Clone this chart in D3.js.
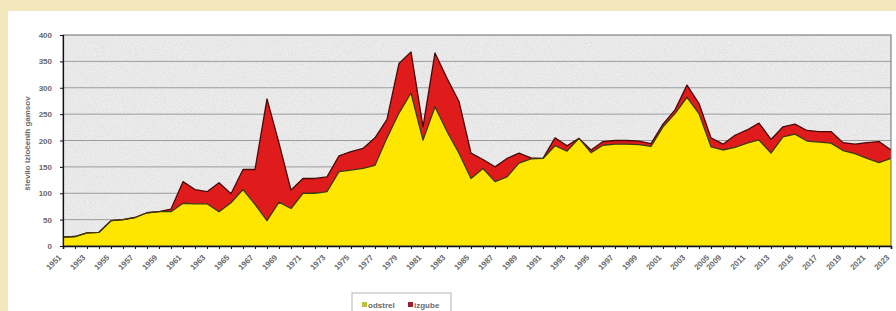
<!DOCTYPE html>
<html>
<head>
<meta charset="utf-8">
<script src="https://cdn.jsdelivr.net/npm/d3@7"></script>
<style>
  html, body { margin: 0; padding: 0; background: #f3e7bd; }
  svg { display: block; }
  .tick-label { font-family: "Liberation Sans", Arial, sans-serif; font-size: 8px; font-weight: bold; fill: #6a6a6a; }
</style>
</head>
<body>
<div id="vis"></div>
<script>
const WIDTH = 896;
const HEIGHT = 311;

// years shown in the chart (2006-2008 are not in the picture)
const YEARS = [
  1951, 1952, 1953, 1954, 1955, 1956, 1957, 1958, 1959, 1960,
  1961, 1962, 1963, 1964, 1965, 1966, 1967, 1968, 1969, 1970,
  1971, 1972, 1973, 1974, 1975, 1976, 1977, 1978, 1979, 1980,
  1981, 1982, 1983, 1984, 1985, 1986, 1987, 1988, 1989, 1990,
  1991, 1992, 1993, 1994, 1995, 1996, 1997, 1998, 1999, 2000,
  2001, 2002, 2003, 2004, 2005, 2009, 2010, 2011, 2012, 2013,
  2014, 2015, 2016, 2017, 2018, 2019, 2020, 2021, 2022, 2023
];

const ODSTREL = [
  17, 18, 25, 26, 48, 50, 54, 63, 65, 65,
  81, 80, 80, 65, 82, 107, 79, 48, 83, 71,
  100, 100, 103, 141, 144, 147, 153, 205, 252, 290,
  201, 264, 217, 176, 128, 147, 122, 131, 157, 165,
  166, 190, 180, 204, 177, 191, 193, 193, 192, 189,
  226, 251, 282, 251, 188, 182, 187, 195, 201, 176,
  207, 212, 199, 197, 195, 181, 175, 166, 158, 166
];

const IZGUBE = [
  0, 0, 0, 0, 0, 0, 0, 0, 0, 5,
  41, 27, 23, 55, 17, 38, 66, 231, 112, 35,
  28, 28, 28, 30, 35, 38, 52, 35, 94, 78,
  25, 102, 101, 98, 48, 17, 28, 35, 19, 2,
  0, 15, 10, 0, 5, 7, 7, 7, 7, 5,
  5, 7, 23, 19, 17, 11, 23, 25, 32, 26,
  19, 19, 20, 20, 22, 15, 18, 30, 40, 16
];

const Y_TICKS = [0, 50, 100, 150, 200, 250, 300, 350, 400];
const X_TICK_LABELS = [
  1951, 1953, 1955, 1957, 1959, 1961, 1963, 1965, 1967, 1969,
  1971, 1973, 1975, 1977, 1979, 1981, 1983, 1985, 1987, 1989,
  1991, 1993, 1995, 1997, 1999, 2001, 2003, 2005, 2009, 2011,
  2013, 2015, 2017, 2019, 2021, 2023
];
const SERIES = ["odstrel", "izgube"];
const COLORS = { odstrel: "#ffe600", izgube: "#e01b1b" };
const LINES = { odstrel: "#3c3a10", izgube: "#4a0808" };

const tabla = YEARS.map((y, i) => ({ leto: y, odstrel: ODSTREL[i], izgube: IZGUBE[i] }));

const PLOT = { left: 63, right: 891, top: 35, bottom: 246 };

const SVG = d3.select("#vis").append("svg")
    .attr("width", WIDTH).attr("height", HEIGHT);

// white panel on the beige page
SVG.append("rect")
    .attr("x", 8).attr("y", 11)
    .attr("width", WIDTH - 8).attr("height", HEIGHT - 11)
    .attr("fill", "#ffffff");

const x = d3.scalePoint().domain(YEARS).range([PLOT.left, PLOT.right]);
const y = d3.scaleLinear().domain([0, 400]).range([PLOT.bottom, PLOT.top]);

// speckled grey plot background
const defs = SVG.append("defs");
const filtro = defs.append("filter").attr("id", "granito")
    .attr("x", 0).attr("y", 0).attr("width", 1).attr("height", 1);
filtro.append("feTurbulence").attr("type", "fractalNoise")
    .attr("baseFrequency", 0.9).attr("numOctaves", 2).attr("seed", 3);
filtro.append("feColorMatrix").attr("type", "matrix")
    .attr("values", "0 0 0 0 0.55  0 0 0 0 0.55  0 0 0 0 0.55  0 0 0 -1.6 1.0");

SVG.append("rect")
    .attr("x", PLOT.left).attr("y", PLOT.top)
    .attr("width", PLOT.right - PLOT.left).attr("height", PLOT.bottom - PLOT.top)
    .attr("fill", "#ededed");
SVG.append("rect")
    .attr("x", PLOT.left).attr("y", PLOT.top)
    .attr("width", PLOT.right - PLOT.left).attr("height", PLOT.bottom - PLOT.top)
    .attr("filter", "url(#granito)")
    .attr("opacity", 0.5);

// gridlines
SVG.append("g")
  .selectAll("line")
  .data(Y_TICKS.filter(d => d > 0 && d < 400))
  .join("line")
    .attr("x1", PLOT.left).attr("x2", PLOT.right)
    .attr("y1", d => y(d)).attr("y2", d => y(d))
    .attr("stroke", "#9c9c9c")
    .attr("stroke-width", 1);

// stacked areas
const stack = d3.stack().keys(SERIES)(tabla);

const area = d3.area()
    .x(d => x(d.data.leto))
    .y0(d => y(d[0]))
    .y1(d => y(d[1]));

const linea = d3.line()
    .x(d => x(d.data.leto))
    .y(d => y(d[1]));

SVG.append("g")
  .selectAll("path")
  .data(stack)
  .join("path")
    .attr("d", area)
    .attr("fill", d => COLORS[d.key]);

SVG.append("g")
  .selectAll("path")
  .data(stack.slice().reverse())
  .join("path")
    .attr("d", linea)
    .attr("fill", "none")
    .attr("stroke", d => LINES[d.key])
    .attr("stroke-width", 1.3)
    .attr("stroke-linejoin", "round");

// plot border
SVG.append("rect")
    .attr("x", PLOT.left).attr("y", PLOT.top)
    .attr("width", PLOT.right - PLOT.left).attr("height", PLOT.bottom - PLOT.top)
    .attr("fill", "none")
    .attr("stroke", "#6a6a6a")
    .attr("stroke-width", 1);

// x axis
const xAxis = d3.axisBottom(x).tickSize(3).tickFormat("");
const gx = SVG.append("g")
    .attr("transform", `translate(0,${PLOT.bottom})`)
    .call(xAxis);
gx.select(".domain").attr("stroke", "#111").attr("stroke-width", 1.6);
gx.selectAll(".tick line").attr("stroke", "#111");

SVG.append("g")
  .selectAll("text")
  .data(X_TICK_LABELS)
  .join("text")
    .classed("tick-label", true)
    .attr("text-anchor", "end")
    .attr("dy", "0.35em")
    .attr("transform", d => `translate(${x(d) - 3},${PLOT.bottom + 10}) rotate(-45)`)
    .text(d => d);

// y axis
const yAxis = d3.axisLeft(y).tickValues(Y_TICKS).tickSize(3).tickPadding(8);
const gy = SVG.append("g")
    .attr("transform", `translate(${PLOT.left},0)`)
    .call(yAxis);
gy.select(".domain").attr("stroke", "#111").attr("stroke-width", 1.2);
gy.selectAll(".tick line").attr("stroke", "#111");
gy.selectAll(".tick text")
    .classed("tick-label", true)
    .attr("font-size", null)
    .attr("font-family", null);

SVG.append("text")
    .classed("tick-label", true)
    .attr("text-anchor", "middle")
    .attr("transform", `translate(30,${(PLOT.top + PLOT.bottom) / 2 + 3}) rotate(-90)`)
    .text("število izločenih gamsov");

// legend
const LEG = { x: 352, y: 293, w: 99, h: 22 };
const leyenda = SVG.append("g");
leyenda.append("rect")
    .attr("x", LEG.x).attr("y", LEG.y)
    .attr("width", LEG.w).attr("height", LEG.h)
    .attr("fill", "#ffffff")
    .attr("stroke", "#b5b5b5");

const items = leyenda.selectAll("g")
  .data(SERIES)
  .join("g")
    .attr("transform", (d, i) => `translate(${LEG.x + 10 + i * 46},${LEG.y + 12})`);
items.append("rect")
    .attr("x", 0).attr("y", -3)
    .attr("width", 5).attr("height", 5)
    .attr("fill", d => d === "odstrel" ? "#b8c23a" : "#9a1d3c");
items.append("text")
    .classed("tick-label", true)
    .attr("x", 6).attr("dy", "0.35em")
    .attr("font-size", "7.5px")
    .text(d => d);
</script>
</body>
</html>
